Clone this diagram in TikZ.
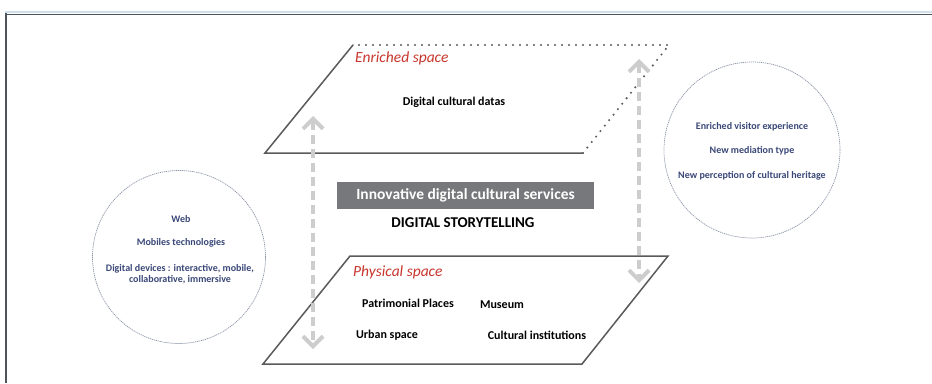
\documentclass[tikz,border=0pt]{standalone}
\usepackage{fontspec}
\setmainfont{Carlito}
\usetikzlibrary{arrows.meta}
\definecolor{framec}{HTML}{4E545C}
\definecolor{framelt}{HTML}{CFE0EA}
\definecolor{planec}{HTML}{5A5A5A}
\definecolor{labred}{HTML}{C8372D}
\definecolor{bluetxt}{HTML}{3A4878}
\definecolor{boxgray}{HTML}{77787B}
\definecolor{arrgray}{HTML}{CDCDCD}
\definecolor{circc}{HTML}{8A92A6}
\tikzset{
  plane/.style={draw=planec, line width=1.5pt},
  planedot/.style={draw=planec, line width=2.3pt, line cap=round, dash pattern=on 0pt off 7pt},
  vlink/.style={draw=arrgray, line width=4.5pt, dash pattern=on 9pt off 5pt,
    {Straight Barb[length=10pt,width=20pt,line width=4pt]}-{Straight Barb[length=10pt,width=20pt,line width=4pt]}},
  circ/.style={draw=circc, line width=0.7pt, dash pattern=on 1.2pt off 0.8pt, circle},
  redlab/.style={text=labred, font=\itshape\fontsize{15.5}{17}\selectfont, anchor=west, inner sep=0pt},
  itemtxt/.style={font=\bfseries\fontsize{12}{14}\selectfont, inner sep=0pt},
  bluetx/.style={text=bluetxt, font=\bfseries\fontsize{10}{11.5}\selectfont, inner sep=0pt, align=center},
}
\begin{document}
\begin{tikzpicture}[x=1pt,y=-1pt]
\useasboundingbox (0,0) rectangle (932,383);
\fill[white] (0,0) rectangle (932,383);
% frame
\draw[framelt, line width=1.5pt] (5,12) -- (932,12);
\draw[framec, line width=1.6pt] (5,14.5) -- (932,14.5);
\draw[framec, line width=2.2pt] (6,13) -- (6,383);

% enriched plane
\coordinate (etl) at (353,45);
\coordinate (etr) at (669,45);
\coordinate (ebr) at (583,153);
\coordinate (ebl) at (265,153);
\draw[plane, line cap=round] (etl) -- (ebl) -- (ebr);
\draw[planedot] (ebr) -- (etr) -- (etl);

% physical plane
\coordinate (ptl) at (350,256);
\coordinate (ptr) at (668,256);
\coordinate (pbr) at (582,364);
\coordinate (pbl) at (263,364);
\draw[plane, line join=miter] (ptl) -- (ptr) -- (pbr) -- (pbl) -- cycle;

% labels
\node[redlab] (enr) at (355,58) {Enriched space};
\node[itemtxt] (dcd) at (454,102) {Digital cultural datas};
\node[redlab] (phy) at (353,272) {Physical space};
\node[itemtxt] (pat) at (408,303) {Patrimonial Places};
\node[itemtxt] (mus) at (502,305) {Museum};
\node[itemtxt] (urb) at (387,335) {Urban space};
\node[itemtxt] (cul) at (537,335) {Cultural institutions};

% central box
\node[fill=boxgray, text=white, font=\bfseries\fontsize{15.5}{17}\selectfont,
  minimum width=257pt, minimum height=27pt, inner sep=0pt] (ids) at (465.5,195.5)
  {Innovative digital cultural services};
\node[font=\bfseries\fontsize{15}{17}\selectfont, inner sep=0pt] (dst) at (463,223) {DIGITAL STORYTELLING};

% vertical arrows
\coordinate (la1) at (313,116);
\coordinate (la2) at (313,349);
\coordinate (ra1) at (639,59);
\coordinate (ra2) at (639,283);
\draw[vlink] (la1) -- (la2);
\draw[vlink] (ra1) -- (ra2);

% circles
\node[circ, minimum size=173pt] (lc) at (179,257) {};
\node[bluetx] (web) at (181,219) {Web};
\node[bluetx] (mob) at (181,243) {Mobiles  technologies};
\node[bluetx] (dev) at (180,274) {Digital devices : interactive, mobile,\\collaborative, immersive};

\node[circ, minimum size=176pt] (rc) at (752,150) {};
\node[bluetx] (evx) at (752,127) {Enriched visitor experience};
\node[bluetx] (nmt) at (752,151) {New mediation type};
\node[bluetx] (npc) at (752,176) {New perception of cultural heritage};
\end{tikzpicture}
\end{document}
